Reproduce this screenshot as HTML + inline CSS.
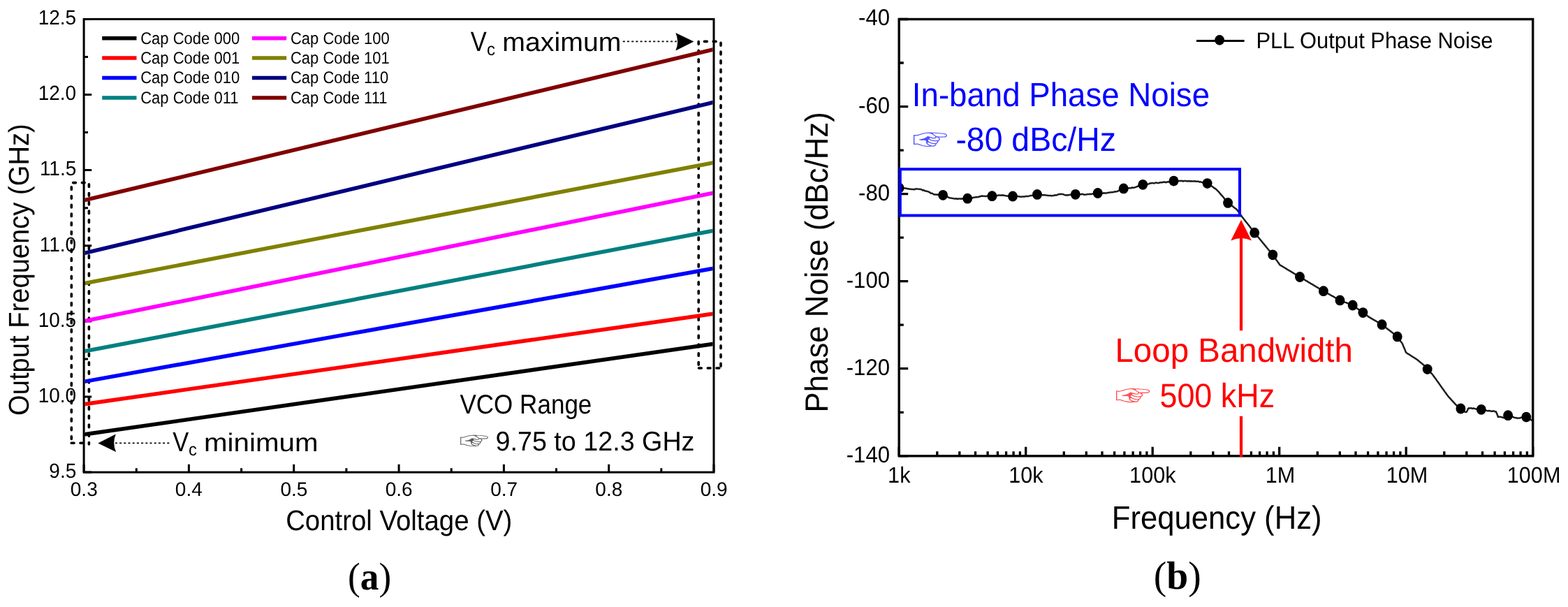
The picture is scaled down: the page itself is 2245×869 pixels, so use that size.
<!DOCTYPE html><html><head><meta charset="utf-8"><title>VCO tuning range and PLL phase noise</title><style>html,body{margin:0;padding:0;background:#fff}body{width:2245px;height:869px;overflow:hidden}svg{display:block}</style></head><body>
<svg width="2245" height="869" viewBox="0 0 2245 869" font-family="'Liberation Sans','Noto Sans CJK JP',sans-serif" text-rendering="geometricPrecision">
<rect width="100%" height="100%" fill="#fff"/>
<path d="M120.1 676.1V664.8M270.4 676.1V664.8M420.7 676.1V664.8M571.1 676.1V664.8M721.4 676.1V664.8M871.7 676.1V664.8M1022.0 676.1V664.8M195.3 676.1V670.2M345.6 676.1V670.2M495.9 676.1V670.2M646.2 676.1V670.2M796.5 676.1V670.2M946.8 676.1V670.2M120.1 676.1H131.2M120.1 568.0H131.2M120.1 459.9H131.2M120.1 351.8H131.2M120.1 243.6H131.2M120.1 135.5H131.2M120.1 27.4H131.2M120.1 622.0H126.0M120.1 513.9H126.0M120.1 405.8H126.0M120.1 297.7H126.0M120.1 189.6H126.0M120.1 81.5H126.0" stroke="#000" stroke-width="3" fill="none"/>
<text transform="matrix(0.999 0 0 1.049 70.368 684.05)" font-size="28">9.5</text>
<text transform="matrix(0.999 0 0 1.049 54.716 575.934)" font-size="28">10.0</text>
<text transform="matrix(0.999 0 0 1.049 54.716 467.817)" font-size="28">10.5</text>
<text transform="matrix(0.999 0 0 1.049 56.714 359.7)" font-size="28">11.0</text>
<text transform="matrix(0.999 0 0 1.049 56.88 251.409)" font-size="28">11.5</text>
<text transform="matrix(0.999 0 0 1.049 54.716 143.467)" font-size="28">12.0</text>
<text transform="matrix(0.999 0 0 1.049 54.716 35.35)" font-size="28">12.5</text>
<text transform="matrix(1 0 0 1.008 100.783 709.864)" font-size="28">0.3</text>
<text transform="matrix(1 0 0 1.008 250.85 709.864)" font-size="28">0.4</text>
<text transform="matrix(1 0 0 1.008 401.417 709.864)" font-size="28">0.5</text>
<text transform="matrix(1 0 0 1.008 551.733 709.864)" font-size="28">0.6</text>
<text transform="matrix(1 0 0 1.008 702.133 709.864)" font-size="28">0.7</text>
<text transform="matrix(1 0 0 1.008 852.367 709.864)" font-size="28">0.8</text>
<text transform="matrix(1 0 0 1.008 1002.767 709.864)" font-size="28">0.9</text>
<line x1="146.2" y1="54.7" x2="195.5" y2="54.7" stroke="#000000" stroke-width="5.5"/>
<text transform="matrix(1 0 0 1.096 201.233 62.5)" font-size="22">Cap Code 000</text>
<line x1="146.2" y1="83.1" x2="195.5" y2="83.1" stroke="#ff0000" stroke-width="5.5"/>
<text transform="matrix(1 0 0 1.096 201.233 90.9)" font-size="22">Cap Code 001</text>
<line x1="146.2" y1="111.5" x2="195.5" y2="111.5" stroke="#0000ff" stroke-width="5.5"/>
<text transform="matrix(1 0 0 1.096 201.233 119.3)" font-size="22">Cap Code 010</text>
<line x1="146.2" y1="139.9" x2="195.5" y2="139.9" stroke="#008080" stroke-width="5.5"/>
<text transform="matrix(1 0 0 1.096 201.233 147.7)" font-size="22">Cap Code 011</text>
<line x1="360.9" y1="54.7" x2="410.2" y2="54.7" stroke="#ff00ff" stroke-width="5.5"/>
<text transform="matrix(1 0 0 1.096 415.933 62.5)" font-size="22">Cap Code 100</text>
<line x1="360.9" y1="83.1" x2="410.2" y2="83.1" stroke="#808000" stroke-width="5.5"/>
<text transform="matrix(1 0 0 1.096 415.933 90.9)" font-size="22">Cap Code 101</text>
<line x1="360.9" y1="111.5" x2="410.2" y2="111.5" stroke="#000080" stroke-width="5.5"/>
<text transform="matrix(1 0 0 1.096 415.933 119.3)" font-size="22">Cap Code 110</text>
<line x1="360.9" y1="139.9" x2="410.2" y2="139.9" stroke="#800000" stroke-width="5.5"/>
<text transform="matrix(1 0 0 1.096 415.933 147.7)" font-size="22">Cap Code 111</text>
<g stroke="#000" stroke-width="3.6" fill="none" stroke-dasharray="3.8 8.95" stroke-linecap="round">
<path d="M104.6 261.6L127 261.6"/>
<path d="M102.3 267.7L102.3 634"/>
<path d="M127.4 263.7L127.4 636"/>
<path d="M102.2 634.2L121 634.2"/>
<path d="M1008.5 59.4L1032 59.4"/>
<path d="M1000.2 59.5L1000.2 527"/>
<path d="M1032 61.4L1032 527"/>
<path d="M1000.5 527L1032 527"/>
</g>
<clipPath id="ca"><rect x="121.6" y="28.9" width="898.9" height="645.7"/></clipPath><g stroke-width="5.6" clip-path="url(#ca)">
<line x1="120.1" y1="622.0" x2="1022.0" y2="492.3" stroke="#000000"/>
<line x1="120.1" y1="578.8" x2="1022.0" y2="449.1" stroke="#ff0000"/>
<line x1="120.1" y1="546.4" x2="1022.0" y2="384.2" stroke="#0000ff"/>
<line x1="120.1" y1="503.1" x2="1022.0" y2="330.1" stroke="#008080"/>
<line x1="120.1" y1="459.9" x2="1022.0" y2="276.1" stroke="#ff00ff"/>
<line x1="120.1" y1="405.8" x2="1022.0" y2="232.8" stroke="#808000"/>
<line x1="120.1" y1="362.6" x2="1022.0" y2="146.3" stroke="#000080"/>
<line x1="120.1" y1="286.9" x2="1022.0" y2="70.6" stroke="#800000"/>
</g>
<rect x="120.1" y="27.4" width="901.9" height="648.7" stroke="#000" stroke-width="3" fill="none"/>
<g stroke="#000" stroke-width="1.7" stroke-dasharray="3 3.2" fill="none">
<path d="M164.9 634.4H242.5"/>
<path d="M891.8 59.4H969"/>
</g>
<path d="M140.3 634.4L165.8 621.5Q160.4 634.4 166.1 646.9Z" fill="#000"/>
<path d="M993.4 59.6L967.4 46.9Q972.8 59.6 967.4 72.6Z" fill="#000"/>
<path d="M1287.2 652.8V639.8M1341.8 652.8V646.2M1373.8 652.8V646.2M1396.5 652.8V646.2M1414.1 652.8V646.2M1428.4 652.8V646.2M1440.6 652.8V646.2M1451.1 652.8V646.2M1460.4 652.8V646.2M1468.7 652.8V639.8M1523.3 652.8V646.2M1555.3 652.8V646.2M1578.0 652.8V646.2M1595.6 652.8V646.2M1609.9 652.8V646.2M1622.1 652.8V646.2M1632.6 652.8V646.2M1641.9 652.8V646.2M1650.2 652.8V639.8M1704.8 652.8V646.2M1736.8 652.8V646.2M1759.5 652.8V646.2M1777.1 652.8V646.2M1791.4 652.8V646.2M1803.6 652.8V646.2M1814.1 652.8V646.2M1823.4 652.8V646.2M1831.7 652.8V639.8M1886.3 652.8V646.2M1918.3 652.8V646.2M1941.0 652.8V646.2M1958.6 652.8V646.2M1972.9 652.8V646.2M1985.1 652.8V646.2M1995.6 652.8V646.2M2004.9 652.8V646.2M2013.2 652.8V639.8M2067.8 652.8V646.2M2099.8 652.8V646.2M2122.5 652.8V646.2M2140.1 652.8V646.2M2154.4 652.8V646.2M2166.6 652.8V646.2M2177.1 652.8V646.2M2186.4 652.8V646.2M2194.7 652.8V639.8M1287.2 27.5H1300.2M1287.2 152.6H1300.2M1287.2 277.6H1300.2M1287.2 402.7H1300.2M1287.2 527.7H1300.2M1287.2 652.8H1300.2M1287.2 90.0H1293.8M1287.2 215.1H1293.8M1287.2 340.1H1293.8M1287.2 465.2H1293.8M1287.2 590.3H1293.8" stroke="#000" stroke-width="3.3" fill="none"/>
<rect x="1287.2" y="27.5" width="907.5" height="625.3" stroke="#000" stroke-width="3.4" fill="none"/>
<text transform="matrix(0.973 0 0 1.024 1229.098 36.459)" font-size="32">-40</text>
<text transform="matrix(0.973 0 0 1.024 1229.098 161.519)" font-size="32">-60</text>
<text transform="matrix(0.973 0 0 1.024 1229.098 286.579)" font-size="32">-80</text>
<text transform="matrix(0.973 0 0 1.024 1211.74 411.639)" font-size="32">-100</text>
<text transform="matrix(0.973 0 0 1.024 1211.74 536.699)" font-size="32">-120</text>
<text transform="matrix(0.973 0 0 1.024 1211.74 661.759)" font-size="32">-140</text>
<text transform="matrix(0.957 0 0 1.004 1271.112 691.433)" font-size="32">1k</text>
<text transform="matrix(0.957 0 0 1.004 1444.157 691.265)" font-size="32">10k</text>
<text transform="matrix(0.957 0 0 1.004 1617.123 691.265)" font-size="32">100k</text>
<text transform="matrix(0.957 0 0 1.004 1811.783 690.847)" font-size="32">1M</text>
<text transform="matrix(0.957 0 0 1.004 1984.749 690.847)" font-size="32">10M</text>
<text transform="matrix(0.957 0 0 1.004 2157.794 690.847)" font-size="32">100M</text>
<line x1="1713" y1="58.6" x2="1781.6" y2="58.6" stroke="#000" stroke-width="3"/>
<ellipse cx="1746.1" cy="57.4" rx="6.9" ry="7.3" fill="#000"/>
<clipPath id="cb"><rect x="1287.2" y="27.5" width="907.5" height="625.3"/></clipPath><g clip-path="url(#cb)">
<polyline fill="none" stroke="#1e1e1e" stroke-width="2.5" stroke-linejoin="round" points="1287.5,268.8 1289.2,268.8 1291.0,269.3 1292.7,268.8 1294.3,269.5 1295.9,269.6 1297.5,269.6 1299.1,270.3 1300.7,270.2 1302.3,270.8 1303.9,270.7 1305.5,271.0 1307.2,271.1 1309.0,271.3 1310.7,270.5 1312.4,270.4 1314.2,270.6 1315.9,270.7 1317.6,270.9 1319.4,271.3 1321.1,272.4 1322.8,272.2 1324.6,273.5 1326.3,273.5 1328.0,274.1 1329.6,274.7 1331.3,275.5 1332.9,276.7 1334.6,276.8 1336.2,277.8 1337.9,278.5 1339.6,278.4 1341.4,278.7 1343.1,278.4 1344.9,278.5 1346.6,278.8 1348.4,279.3 1350.1,279.2 1351.7,279.7 1353.2,280.6 1354.8,281.1 1356.4,281.6 1358.0,282.6 1359.5,283.2 1361.1,283.4 1362.7,283.8 1364.4,283.9 1366.0,284.4 1367.7,284.4 1369.3,284.2 1371.0,285.0 1372.6,284.4 1374.4,284.6 1376.2,284.8 1378.0,284.2 1379.8,284.4 1381.6,283.9 1383.4,284.4 1385.2,284.4 1387.0,284.0 1388.7,283.9 1390.5,283.1 1392.3,283.2 1394.0,282.8 1395.8,282.5 1397.5,282.1 1399.1,282.2 1400.8,282.0 1402.4,281.3 1404.1,281.2 1405.7,280.4 1407.4,280.7 1409.0,280.7 1410.7,281.0 1412.3,280.9 1413.9,280.4 1415.5,280.5 1417.2,280.8 1418.8,280.2 1420.4,280.7 1422.1,280.3 1423.8,280.1 1425.5,279.9 1427.2,280.3 1428.9,279.6 1430.6,279.6 1432.3,279.6 1434.0,279.8 1435.6,279.3 1437.2,279.8 1438.8,280.0 1440.4,280.4 1442.0,280.5 1443.6,280.7 1445.2,280.4 1446.8,280.6 1448.4,280.7 1450.0,281.3 1451.7,281.5 1453.4,280.9 1455.1,281.0 1456.8,281.1 1458.5,281.2 1460.2,281.5 1461.9,281.7 1463.6,281.5 1465.3,281.4 1466.9,281.4 1468.6,281.1 1470.2,281.0 1471.9,281.1 1473.5,280.6 1475.2,280.1 1476.8,279.9 1478.4,279.7 1480.1,278.8 1481.7,279.3 1483.4,278.9 1485.0,278.7 1486.6,278.8 1488.2,278.7 1489.8,278.8 1491.4,278.8 1493.0,279.4 1494.6,279.1 1496.2,279.2 1497.8,279.6 1499.4,279.7 1501.0,280.0 1502.6,279.9 1504.2,280.1 1505.8,280.4 1507.4,280.0 1509.0,279.9 1510.6,279.2 1512.2,279.6 1513.8,279.0 1515.4,278.2 1517.0,277.9 1518.6,277.7 1520.3,278.0 1522.1,278.0 1523.8,279.0 1525.5,279.4 1527.3,279.2 1529.0,279.5 1530.8,278.9 1532.6,278.7 1534.4,278.8 1536.2,278.5 1538.0,278.8 1539.8,278.0 1541.4,277.9 1543.0,278.7 1544.6,278.3 1546.2,277.9 1547.8,278.3 1549.4,277.8 1551.0,278.3 1552.6,278.7 1554.2,278.6 1555.8,278.4 1557.4,278.0 1559.0,278.1 1560.6,277.7 1562.2,278.0 1563.8,277.6 1565.3,277.6 1566.9,277.0 1568.5,276.7 1570.1,277.0 1571.7,276.9 1573.4,276.8 1575.2,276.8 1576.9,276.8 1578.7,276.7 1580.4,276.3 1582.1,276.5 1583.9,276.4 1585.6,276.1 1587.3,275.7 1589.1,275.6 1590.8,275.2 1592.5,275.2 1594.3,275.1 1596.0,274.3 1597.8,274.4 1599.5,274.0 1601.0,273.4 1602.6,272.2 1604.1,271.5 1605.6,270.9 1607.2,270.2 1608.7,269.6 1610.4,269.9 1612.2,270.0 1613.9,269.8 1615.7,269.3 1617.4,269.3 1619.1,269.3 1620.9,268.5 1622.6,268.8 1624.3,268.5 1626.0,267.9 1627.7,267.3 1629.4,266.5 1631.2,265.7 1632.9,265.7 1634.6,264.7 1636.3,264.6 1638.0,264.5 1639.7,263.7 1641.4,263.4 1643.1,263.7 1644.8,263.2 1646.5,262.5 1648.2,262.2 1649.9,261.9 1651.6,262.4 1653.3,262.2 1655.1,261.4 1656.8,261.9 1658.6,262.0 1660.3,261.5 1662.0,261.1 1663.8,261.2 1665.5,260.7 1667.3,260.5 1669.0,261.2 1670.6,260.7 1672.3,260.3 1673.9,260.5 1675.6,259.8 1677.2,259.9 1678.9,259.6 1680.5,258.8 1682.2,258.9 1683.8,258.9 1685.5,258.9 1687.1,259.2 1688.8,258.9 1690.4,259.0 1692.1,258.8 1693.8,259.5 1695.4,259.0 1697.1,259.1 1698.7,259.2 1700.4,259.5 1702.0,259.0 1703.7,259.5 1705.4,259.3 1707.2,259.4 1708.9,259.6 1710.7,259.3 1712.4,259.8 1714.1,259.7 1715.9,259.7 1717.6,260.6 1719.2,260.3 1720.7,260.9 1722.3,261.5 1723.9,261.7 1725.5,261.8 1727.0,262.3 1728.6,262.6 1730.1,263.8 1731.6,264.2 1733.0,265.6 1734.5,266.2 1736.0,267.2 1737.5,268.6 1738.9,269.4 1740.4,270.4 1741.9,271.5 1743.1,273.0 1744.2,273.9 1745.4,275.3 1746.5,276.6 1747.7,277.9 1748.8,279.4 1750.0,280.5 1751.2,281.9 1752.3,283.3 1753.5,285.1 1754.6,286.3 1755.8,287.9 1756.9,289.4 1758.1,290.2 1759.4,291.4 1760.7,292.7 1761.9,293.6 1763.2,293.9 1764.5,294.9 1765.8,296.2 1767.1,297.1 1768.3,298.1 1769.6,299.0 1770.9,300.0 1771.9,301.4 1772.9,302.8 1773.9,304.2 1775.0,305.7 1776.0,307.1 1777.0,308.5 1778.0,309.9 1779.0,311.2 1780.0,312.5 1781.0,313.8 1782.0,315.1 1783.1,316.4 1784.1,317.7 1785.1,319.0 1786.1,320.3 1787.1,321.5 1788.1,322.8 1789.1,324.1 1790.1,325.4 1791.1,326.7 1792.2,328.0 1793.2,329.3 1794.2,330.6 1795.2,331.9 1796.2,333.2 1797.2,334.5 1798.3,335.7 1799.3,337.0 1800.4,338.3 1801.4,339.5 1802.5,340.8 1803.5,342.0 1804.6,343.3 1805.6,344.6 1806.6,345.8 1807.7,347.1 1808.7,348.4 1809.8,349.6 1810.8,350.9 1811.9,352.2 1812.9,353.4 1813.9,354.7 1815.0,356.0 1816.0,357.2 1817.1,358.5 1818.1,359.7 1819.2,361.0 1820.2,362.3 1821.3,363.5 1822.3,364.8 1823.3,366.2 1824.3,367.7 1825.3,369.1 1826.3,370.6 1827.3,372.0 1828.4,373.4 1829.4,374.9 1830.4,376.3 1831.4,377.8 1832.4,379.2 1833.8,380.1 1835.3,380.9 1836.7,381.8 1838.1,382.7 1839.6,383.5 1841.0,384.4 1842.4,385.3 1843.8,386.1 1845.3,387.0 1846.7,387.9 1848.1,388.7 1849.6,389.6 1851.0,390.4 1852.4,391.3 1853.8,392.2 1855.3,393.0 1856.7,393.9 1858.1,394.8 1859.6,395.6 1861.0,396.5 1862.4,397.3 1863.8,398.2 1865.2,399.0 1866.7,399.9 1868.1,400.7 1869.5,401.6 1870.9,402.4 1872.3,403.2 1873.7,404.1 1875.1,404.9 1876.5,405.8 1878.0,406.6 1879.4,407.4 1880.8,408.3 1882.2,409.1 1883.6,410.0 1885.0,410.8 1886.4,411.6 1887.8,412.5 1889.2,413.3 1890.7,414.2 1892.1,415.0 1893.5,415.9 1894.9,416.7 1896.4,417.5 1897.9,418.3 1899.3,419.2 1900.8,420.0 1902.3,420.8 1903.8,421.6 1905.2,422.5 1906.7,423.3 1908.2,424.1 1909.7,424.9 1911.1,425.8 1912.6,426.6 1914.1,427.4 1915.5,428.2 1917.0,429.1 1918.5,429.9 1920.0,430.5 1921.5,431.1 1923.0,431.7 1924.6,432.3 1926.1,432.9 1927.6,433.4 1929.1,434.0 1930.6,434.6 1932.2,435.2 1933.7,435.8 1935.2,436.4 1936.7,437.0 1938.0,438.0 1939.4,438.9 1940.7,439.9 1942.0,440.9 1943.4,441.8 1944.7,442.8 1946.1,443.7 1947.4,444.7 1948.7,445.7 1950.1,446.6 1951.4,447.6 1952.8,448.7 1954.3,449.7 1955.7,450.8 1957.1,451.8 1958.6,452.8 1960.0,453.9 1961.4,454.7 1962.9,455.6 1964.3,456.4 1965.7,457.2 1967.2,458.1 1968.6,458.9 1970.0,459.7 1971.4,460.5 1972.9,461.4 1974.3,462.2 1975.7,463.0 1977.2,463.9 1978.6,464.7 1979.9,465.7 1981.2,466.7 1982.5,467.7 1983.8,468.7 1985.1,469.8 1986.4,470.8 1987.7,471.8 1989.0,472.8 1990.3,473.8 1991.6,474.8 1992.9,475.8 1994.2,476.8 1995.5,477.9 1996.8,478.9 1998.1,479.9 1999.4,480.9 2000.7,481.9 2001.7,483.4 2002.8,484.8 2003.8,486.3 2004.8,487.7 2005.8,489.2 2006.9,490.6 2007.9,492.1 2008.6,493.7 2009.2,495.3 2009.9,496.9 2010.6,498.5 2011.2,500.0 2011.9,501.6 2012.5,503.2 2013.2,504.8 2014.6,505.7 2016.0,506.6 2017.4,507.4 2018.8,508.3 2020.2,509.2 2021.5,510.1 2022.9,511.0 2024.3,511.9 2025.7,512.7 2027.1,513.6 2028.5,514.5 2029.9,515.6 2031.3,516.8 2032.7,517.9 2034.0,519.0 2035.4,520.1 2036.8,521.3 2038.2,522.4 2039.3,523.6 2040.4,524.9 2041.5,526.1 2042.6,527.4 2043.7,528.6 2044.9,529.9 2046.1,531.1 2047.3,532.4 2048.6,533.6 2049.8,534.9 2051.0,536.1 2051.9,537.4 2052.9,538.7 2053.8,540.0 2054.7,541.3 2055.7,542.6 2056.6,543.9 2057.5,545.2 2058.5,546.5 2059.4,547.8 2060.3,549.1 2061.3,550.4 2062.2,551.8 2063.1,553.1 2064.1,554.4 2065.0,555.7 2065.9,557.0 2066.9,558.3 2067.8,559.6 2068.7,560.9 2069.7,562.2 2070.6,563.5 2071.5,564.8 2072.5,566.1 2073.4,567.4 2074.6,568.7 2075.8,569.9 2076.9,571.2 2078.1,572.5 2079.3,573.8 2080.5,575.0 2081.7,576.3 2082.8,577.6 2084.0,578.8 2085.2,580.1 2086.8,581.3 2088.3,582.5 2089.8,583.4 2091.4,584.8 2093.0,585.7 2094.6,587.3 2096.1,588.5 2097.7,589.7 2099.3,590.1 2100.2,589.0 2101.1,587.3 2101.9,585.3 2102.8,584.3 2104.4,584.6 2106.1,584.1 2107.7,584.9 2109.3,584.6 2111.0,584.8 2112.6,585.4 2114.2,585.6 2115.9,585.2 2117.5,585.7 2119.2,586.1 2120.8,586.2 2122.4,586.4 2123.9,586.8 2125.5,587.5 2127.1,587.2 2128.6,588.0 2130.2,588.2 2131.9,588.0 2133.5,588.3 2135.2,588.7 2136.9,588.7 2138.6,588.3 2140.2,589.3 2141.9,589.2 2142.5,590.9 2143.1,591.7 2143.6,593.4 2144.2,594.7 2144.8,597.0 2146.6,596.7 2148.3,596.8 2150.1,597.2 2151.8,597.9 2153.6,598.0 2155.4,596.5 2157.3,595.4 2159.1,595.1 2160.8,595.3 2162.6,596.0 2164.3,596.0 2166.0,596.6 2167.7,597.7 2169.5,598.1 2171.2,598.3 2173.0,598.9 2174.7,598.4 2176.5,598.4 2178.2,597.5 2180.0,598.0 2181.8,597.1 2183.5,597.6 2185.3,597.1 2186.7,597.8 2188.1,598.8 2189.5,600.0 2190.9,600.3 2192.3,601.0 2193.7,602.2"/>
<g fill="#000"><ellipse cx="1287.5" cy="269.0" rx="6.95" ry="7.4"/><ellipse cx="1350.1" cy="279.3" rx="6.95" ry="7.4"/><ellipse cx="1385.2" cy="284.2" rx="6.95" ry="7.4"/><ellipse cx="1420.4" cy="280.7" rx="6.95" ry="7.4"/><ellipse cx="1450.0" cy="281.0" rx="6.95" ry="7.4"/><ellipse cx="1485.0" cy="278.4" rx="6.95" ry="7.4"/><ellipse cx="1539.8" cy="278.3" rx="6.95" ry="7.4"/><ellipse cx="1571.7" cy="276.5" rx="6.95" ry="7.4"/><ellipse cx="1608.7" cy="269.9" rx="6.95" ry="7.4"/><ellipse cx="1636.3" cy="264.3" rx="6.95" ry="7.4"/><ellipse cx="1680.5" cy="259.1" rx="6.95" ry="7.4"/><ellipse cx="1728.6" cy="262.6" rx="6.95" ry="7.4"/><ellipse cx="1758.1" cy="290.4" rx="6.95" ry="7.4"/><ellipse cx="1796.2" cy="333.2" rx="6.95" ry="7.4"/><ellipse cx="1822.3" cy="364.8" rx="6.95" ry="7.4"/><ellipse cx="1861.0" cy="396.5" rx="6.95" ry="7.4"/><ellipse cx="1894.9" cy="416.7" rx="6.95" ry="7.4"/><ellipse cx="1918.5" cy="429.9" rx="6.95" ry="7.4"/><ellipse cx="1936.7" cy="437.0" rx="6.95" ry="7.4"/><ellipse cx="1951.4" cy="447.6" rx="6.95" ry="7.4"/><ellipse cx="1978.6" cy="464.7" rx="6.95" ry="7.4"/><ellipse cx="2000.7" cy="481.9" rx="6.95" ry="7.4"/><ellipse cx="2043.7" cy="528.6" rx="6.95" ry="7.4"/><ellipse cx="2091.4" cy="585.0" rx="6.95" ry="7.4"/><ellipse cx="2120.8" cy="586.3" rx="6.95" ry="7.4"/><ellipse cx="2159.1" cy="594.7" rx="6.95" ry="7.4"/><ellipse cx="2185.3" cy="597.1" rx="6.95" ry="7.4"/></g></g>
<rect x="1288.8" y="242.2" width="486.2" height="66.3" stroke="#0000ff" stroke-width="4" fill="none"/>
<g stroke="#ff0000" stroke-width="4.2"><path d="M1777 338V473.3M1777 595.8V654"/></g>
<path d="M1777 314.8L1762.3 344.6Q1777 337.4 1791.9 344.6Z" fill="#ff0000"/>
<text transform="matrix(0 -0.978 1.047 0 40.5 594.893)" font-size="39">Output Frequency (GHz)</text>
<text transform="matrix(0.984 0 0 1.047 409.132 759.2)" font-size="39">Control Voltage (V)</text>
<text transform="matrix(0.922 0 0 1.02 658.446 591.8)" font-size="38">VCO Range</text>
<text transform="matrix(1.059 0 0 0.856 657.788 643.35)" font-size="40" fill="#5c5c5c">☞</text>
<text transform="matrix(0.992 0 0 1.024 709.482 644.7)" font-size="38">9.75 to 12.3 GHz</text>
<text transform="matrix(0.908 0 0 1.032 247.349 645.9)" font-size="38">V</text>
<text transform="matrix(0.987 0 0 1.038 270.113 651.827)" font-size="24">c</text>
<text transform="matrix(1.062 0 0 0.966 291.945 645.9)" font-size="38">minimum</text>
<text transform="matrix(0.908 0 0 1.047 673.749 73)" font-size="38">V</text>
<text transform="matrix(0.997 0 0 1.038 697.103 78.827)" font-size="24">c</text>
<text transform="matrix(1.033 0 0 0.995 719.316 72.9)" font-size="38">maximum</text>
<text transform="matrix(1.025 0 0 1.068 498.108 843.551)" font-size="52" font-family="'Liberation Serif',serif">(<tspan font-weight="bold">a</tspan>)</text>
<text transform="matrix(1.069 0 0 1.086 1651.805 843.359)" font-size="52" font-family="'Liberation Serif',serif">(<tspan font-weight="bold">b</tspan>)</text>
<text transform="matrix(0 -0.994 1.045 0 1185.3 590.443)" font-size="44">Phase Noise (dBc/Hz)</text>
<text transform="matrix(0.992 0 0 1.058 1591.761 757)" font-size="44">Frequency (Hz)</text>
<text transform="matrix(0.997 0 0 1.05 1798.506 69.2)" font-size="31">PLL Output Phase Noise</text>
<text transform="matrix(0.992 0 0 1.042 1305.865 151.6)" font-size="46" fill="#0000ff">In-band Phase Noise</text>
<text transform="matrix(1.112 0 0 0.938 1306.232 214.948)" font-size="46" fill="#5050ff">☞</text>
<text transform="matrix(1.009 0 0 1.045 1368.382 215.9)" font-size="46" fill="#0000ff">-80 dBc/Hz</text>
<text transform="matrix(1.032 0 0 1.055 1596.445 517.5)" font-size="46" fill="#ff0000">Loop Bandwidth</text>
<text transform="matrix(1.121 0 0 0.92 1596.218 580.855)" font-size="46" fill="#ff5050">☞</text>
<text transform="matrix(0.976 0 0 1.055 1660.411 582.5)" font-size="46" fill="#ff0000">500 kHz</text>
</svg>
</body></html>
